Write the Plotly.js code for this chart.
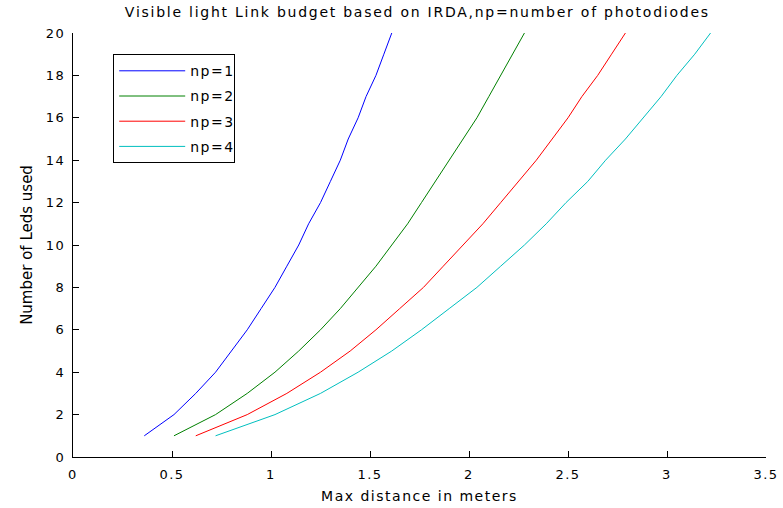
<!DOCTYPE html>
<html>
<head>
<meta charset="utf-8">
<script src="https://cdn.plot.ly/plotly-3.0.1.min.js"></script>
<style>
html,body{margin:0;padding:0;background:#fff;}
#chart{width:783px;height:508px;}
#chart .xtick text, #chart .ytick text, #chart .xtitle, #chart .legendtext{letter-spacing:1.5px;}
#chart .gtitle{letter-spacing:1.75px;}
</style>
</head>
<body>
<div id="chart"></div>
<script>
const leds = [1,2,3,4,5,6,7,8,9,10,11,12,13,14,15,16,17,18,19,20];
const distNp1 = [0.36,0.51,0.62,0.72,0.80,0.88,0.95,1.02,1.08,1.14,1.19,1.25,1.30,1.35,1.39,1.44,1.48,1.53,1.57,1.61];
const distNp2 = [0.51,0.72,0.88,1.02,1.14,1.25,1.35,1.44,1.53,1.61,1.69,1.76,1.83,1.90,1.97,2.04,2.10,2.16,2.22,2.28];
const distNp3 = [0.62,0.88,1.08,1.25,1.40,1.53,1.65,1.77,1.87,1.97,2.07,2.16,2.25,2.34,2.42,2.50,2.57,2.65,2.72,2.79];
const distNp4 = [0.72,1.02,1.25,1.44,1.61,1.76,1.90,2.04,2.16,2.28,2.39,2.49,2.60,2.69,2.79,2.88,2.97,3.05,3.14,3.22];
const seriesNames = ['np=1','np=2','np=3','np=4'];
const seriesColors = ['#0000ff','#008000','#ff0000','#00bfbf'];
const xTicks = [0,0.5,1,1.5,2,2.5,3,3.5];
const xTickLabels = ['0','0.5','1','1.5','2','2.5','3','3.5'];
const yTicks = [0,2,4,6,8,10,12,14,16,18,20];

const allDist = [distNp1, distNp2, distNp3, distNp4];
const traces = allDist.map((d,i)=>({
  x: d, y: leds, type:'scatter', mode:'lines', name: seriesNames[i], legendgroup:'g'+i,
  line:{color: seriesColors[i], width:1}
}));

const fam = '"DejaVu Sans", "Liberation Sans", Arial, sans-serif';
const layout = {
  width:783, height:508,
  margin:{l:73, r:17, t:33, b:51},
  paper_bgcolor:'#fff', plot_bgcolor:'#fff',
  font:{family:fam, size:13, color:'#000'},
  title:{text:'Visible light Link budget based on IRDA,np=number of photodiodes', x:0.533, xanchor:'center', y:0.976, yanchor:'middle', font:{family:fam, size:14, color:'#000'}},
  xaxis:{range:[0,3.5], tickvals:xTicks, ticktext:xTickLabels, ticks:'inside', ticklen:6, tickcolor:'#000', ticklabelstandoff:5,
    showline:true, linecolor:'#000', linewidth:1, showgrid:false, zeroline:false, mirror:false,
    tickfont:{family:fam, size:13, color:'#000'},
    title:{text:'Max distance in meters', standoff:10, font:{family:fam, size:14, color:'#000'}}},
  yaxis:{range:[0,20], tickvals:yTicks, ticks:'inside', ticklen:6, tickcolor:'#000', ticklabelstandoff:4,
    showline:true, linecolor:'#000', linewidth:1, showgrid:false, zeroline:false, mirror:false,
    tickfont:{family:fam, size:13, color:'#000'},
    title:{text:'Number of Leds used', standoff:12, font:{family:fam, size:15, color:'#000'}}},
  legend:{x:0.058, y:0.95, xanchor:'left', yanchor:'top', bgcolor:'#fff', bordercolor:'#000', borderwidth:1,
    itemwidth:66, font:{family:fam, size:14, color:'#000'}, tracegroupgap:4},
  showlegend:true
};
Plotly.newPlot('chart', traces, layout, {displayModeBar:false, staticPlot:true});
</script>
</body>
</html>
